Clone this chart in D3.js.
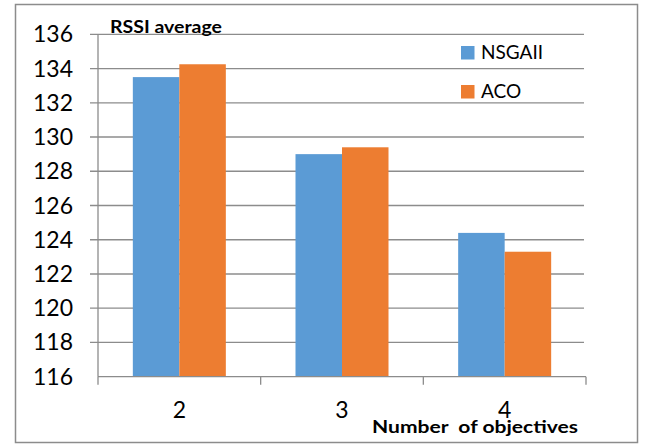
<!DOCTYPE html>
<html lang="en">
<head>
  <meta charset="UTF-8">
  <title>RSSI average</title>
  <script src="https://d3js.org/d3.v7.min.js"></script>
  <style>
    body { margin: 0; background: #fff; }
    svg { display: block; }
    text { font-family: Lato, "Open Sans", sans-serif; fill: #000; }
  </style>
</head>
<body>
  <svg width="654" height="444"></svg>
  <script>
    const categories = ["2", "3", "4"];
    const seriesNames = ["NSGAII", "ACO"];
    const nsgaii = [133.5, 129.0, 124.4];
    const aco = [134.25, 129.4, 123.3];
    const yTicks = [116, 118, 120, 122, 124, 126, 128, 130, 132, 134, 136];
    const colors = ["#5b9bd5", "#ed7d31"];

    const svg = d3.select("svg");
    const plotL = 98, plotR = 586, plotT = 34.3, plotB = 376.7;

    // outer frame
    svg.append("rect")
      .attr("x", 15.5).attr("y", 4.5)
      .attr("width", 622).attr("height", 438)
      .attr("fill", "#fff").attr("stroke", "#8c8c8c").attr("stroke-width", 1.5);

    const x = d3.scaleBand().domain(categories).range([plotL, plotR]);
    const y = d3.scaleLinear().domain([116, 136]).range([plotB, plotT]);

    // grid
    svg.append("g").selectAll("line")
      .data(yTicks.slice(1))
      .join("line")
      .attr("x1", plotL - 8).attr("x2", 584)
      .attr("y1", d => y(d)).attr("y2", d => y(d))
      .attr("stroke", "#8c8c8c").attr("stroke-width", 1.3);

    // left axis
    svg.append("line")
      .attr("x1", plotL).attr("x2", plotL).attr("y1", plotT).attr("y2", plotB)
      .attr("stroke", "#8c8c8c").attr("stroke-width", 1.3);

    svg.append("g").selectAll("text")
      .data(yTicks)
      .join("text")
      .attr("x", 73).attr("y", d => y(d) + 8)
      .attr("text-anchor", "end")
      .attr("font-size", 23)
      .text(d => d);

    // bars
    const barW = 46.5;
    const data = categories.map((c, i) => [nsgaii[i], aco[i]]);
    const groups = svg.append("g").selectAll("g")
      .data(data)
      .join("g")
      .attr("transform", (d, i) => `translate(${x(categories[i]) + x.bandwidth() / 2},0)`);
    groups.selectAll("rect")
      .data(d => d)
      .join("rect")
      .attr("x", (d, j) => (j - 1) * barW)
      .attr("y", d => y(d))
      .attr("width", barW)
      .attr("height", d => plotB - y(d))
      .attr("fill", (d, j) => colors[j]);

    // bottom axis
    svg.append("line")
      .attr("x1", plotL).attr("x2", plotR).attr("y1", plotB).attr("y2", plotB)
      .attr("stroke", "#8c8c8c").attr("stroke-width", 1.3);
    const edges = categories.map(c => x(c)).concat([plotR]);
    svg.append("g").selectAll("line")
      .data(edges)
      .join("line")
      .attr("x1", d => d).attr("x2", d => d)
      .attr("y1", plotB).attr("y2", plotB + 8)
      .attr("stroke", "#8c8c8c").attr("stroke-width", 1.3);

    svg.append("g").selectAll("text")
      .data(categories)
      .join("text")
      .attr("x", d => x(d) + x.bandwidth() / 2)
      .attr("y", 418)
      .attr("text-anchor", "middle")
      .attr("font-size", 23)
      .text(d => d);

    svg.append("text")
      .attr("x", 372).attr("y", 433)
      .attr("font-size", 16.5).attr("font-weight", "bold")
      .attr("textLength", 206).attr("lengthAdjust", "spacingAndGlyphs")
      .style("white-space", "pre")
      .text("Number  of objectives");

    svg.append("text")
      .attr("x", 110).attr("y", 33)
      .attr("font-size", 16.5).attr("font-weight", "bold")
      .attr("textLength", 112).attr("lengthAdjust", "spacingAndGlyphs")
      .text("RSSI average");

    // legend
    const legend = svg.append("g").selectAll("g")
      .data(seriesNames)
      .join("g")
      .attr("transform", (d, i) => `translate(461,${46 + i * 39})`);
    legend.append("rect")
      .attr("width", 13.5).attr("height", 13.5)
      .attr("fill", (d, i) => colors[i]);
    legend.append("text")
      .attr("x", 20).attr("y", 13)
      .attr("font-size", 19)
      .text(d => d);
  </script>
</body>
</html>
